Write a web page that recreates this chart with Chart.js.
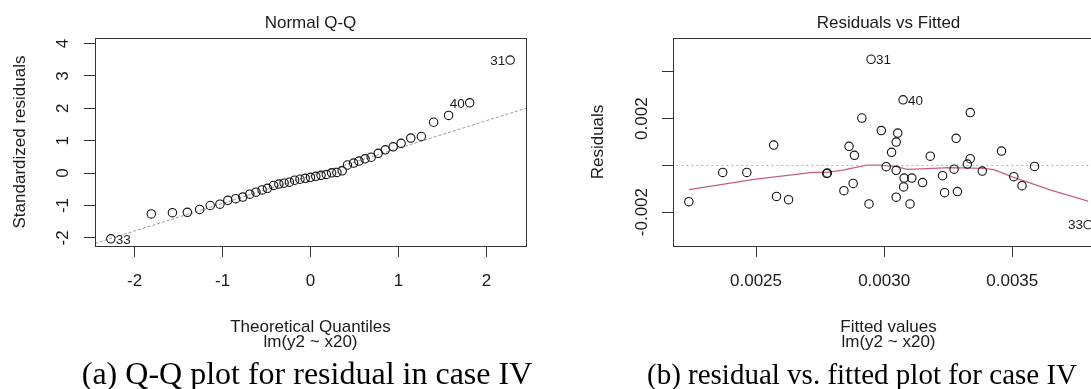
<!DOCTYPE html>
<html><head><meta charset="utf-8">
<script src="https://cdn.jsdelivr.net/npm/chart.js@4.4.0/dist/chart.umd.min.js"></script>
<style>
html,body{margin:0;padding:0;background:#fff;overflow:hidden;width:1091px;height:389px;}
#wrap{position:relative;width:1091px;height:389px;overflow:hidden;background:#fff;}
.pane{position:absolute;top:0;height:389px;width:545px;}
#p1{left:0;}
#p2{left:578px;}
.cap{position:absolute;font-family:"Liberation Serif","Times New Roman",serif;line-height:1;color:#000;white-space:nowrap;transform:translateX(-50%);}
</style></head>
<body><div id="wrap">
<div class="pane" id="p1"><canvas id="c1" width="545" height="389"></canvas></div>
<div class="pane" id="p2"><canvas id="c2" width="545" height="389"></canvas></div>
<div class="cap" style="left:307px;top:357px;font-size:32px">(a) Q-Q plot for residual in case IV</div>
<div class="cap" style="left:862px;top:359.5px;font-size:29px">(b) residual vs. fitted plot for case IV</div>
</div>
<script>
// ---------- Q-Q plot data ----------
const qqTheoretical = [-2.27,-1.81,-1.57,-1.40,-1.26,-1.14,-1.03,-0.94,-0.85,-0.77,-0.69,-0.62,-0.55,-0.49,-0.42,-0.36,-0.30,-0.24,-0.18,-0.12,-0.06,0.00,0.06,0.12,0.18,0.24,0.30,0.36,0.42,0.49,0.55,0.62,0.69,0.77,0.85,0.94,1.03,1.14,1.26,1.40,1.57,1.81,2.27];
const qqStdResid = [-2.03,-1.26,-1.22,-1.21,-1.12,-1.00,-0.96,-0.84,-0.79,-0.74,-0.65,-0.59,-0.52,-0.47,-0.38,-0.34,-0.31,-0.28,-0.22,-0.19,-0.16,-0.13,-0.10,-0.07,-0.04,0.01,0.02,0.07,0.25,0.31,0.37,0.44,0.49,0.61,0.72,0.81,0.92,1.08,1.13,1.57,1.78,2.17,3.49];
const qqLineX = [-2.45, 2.46];
const qqLineY = [-2.17, 2.01];
const qqXTicks = [-2,-1,0,1,2];
const qqXTickLabels = ['-2','-1','0','1','2'];
const qqYTicks = [-2,-1,0,1,2,3,4];
const qqYTickLabels = ['-2','-1','0','1','2','3','4'];
const qqLabelIndex = [0, 41, 42];
const qqLabelText = ['33','40','31'];
const qqLabelSide = ['right','left','left'];

// ---------- Residuals vs Fitted data ----------
const fittedValues = [0.002238,0.002370,0.002464,0.002569,0.002580,0.002627,0.002776,0.002778,0.002843,0.002863,0.002879,0.002884,0.002913,0.002941,0.002949,0.002989,0.003008,0.003029,0.003053,0.003047,0.003047,0.003047,0.003074,0.003076,0.003078,0.003101,0.003108,0.003150,0.003180,0.003228,0.003236,0.003273,0.003281,0.003286,0.003325,0.003336,0.003336,0.003383,0.003458,0.003506,0.003538,0.003587,0.003796];
const residualValues = [-0.001555,-0.000300,-0.000300,0.000869,-0.001328,-0.001469,-0.000343,-0.000330,-0.001084,0.000814,-0.000771,0.000428,0.002026,-0.001649,0.004540,0.001490,-0.000056,0.000557,0.001383,0.000998,-0.000214,-0.001362,0.002805,-0.000921,-0.000544,-0.001649,-0.000544,-0.000737,0.000394,-0.000441,-0.001169,-0.000163,0.001156,-0.001122,0.000056,0.000287,0.002261,-0.000244,0.000612,-0.000484,-0.000869,-0.000043,-0.002540];
const smoothX = [0.002238,0.002500,0.002722,0.002776,0.002839,0.002932,0.002984,0.003050,0.003089,0.003167,0.003258,0.003388,0.003427,0.003466,0.003505,0.003583,0.003650,0.003796];
const smoothY = [-0.001041,-0.000587,-0.000300,-0.000300,-0.000201,0.000013,0.000013,-0.000056,-0.000171,-0.000141,-0.000099,-0.000128,-0.000184,-0.000343,-0.000514,-0.000801,-0.001058,-0.001530];
const zeroLineX = [0.00215, 0.00390];
const zeroLineY = [0, 0];
const resXTicks = [0.0025, 0.0030, 0.0035];
const resXTickLabels = ['0.0025','0.0030','0.0035'];
const resYTicks = [-0.002, 0, 0.002, 0.004];
const resYTickLabels = ['-0.002','','0.002',''];
const resLabelIndex = [14, 22, 42];
const resLabelText = ['31','40','33'];
const resLabelSide = ['right','right','left'];

// ---------- helpers ----------
const FAM = '"Liberation Sans", Arial, Helvetica, sans-serif';
const TXT = '#1a1a1a';
Chart.defaults.font.family = FAM;
Chart.defaults.color = TXT;

const boxPlugin = {
  id: 'boxPlugin',
  afterDraw(chart, args, opts) {
    const {ctx, chartArea: a} = chart;
    ctx.save();
    ctx.strokeStyle = '#333'; ctx.lineWidth = 1;
    ctx.strokeRect(Math.round(a.left)+0.5, Math.round(a.top)+0.5, Math.round(a.right-a.left), Math.round(a.bottom-a.top));
    ctx.font = '17px ' + FAM; ctx.fillStyle = TXT; ctx.textAlign = 'center'; ctx.textBaseline = 'middle';
    ctx.fillText(opts.title, (a.left + a.right)/2, 23);
    ctx.restore();
  }
};
const labelPlugin = {
  id: 'labelPlugin',
  afterDatasetsDraw(chart, args, opts) {
    const {ctx} = chart; const xs = chart.scales.x, ys = chart.scales.y;
    const ds = chart.data.datasets[0].data;
    ctx.save();
    ctx.font = '13.5px ' + FAM; ctx.fillStyle = TXT; ctx.textBaseline = 'middle';
    opts.index.forEach((idx, k) => {
      const p = ds[idx];
      const px = xs.getPixelForValue(p.x), py = ys.getPixelForValue(p.y);
      const left = opts.side[k] === 'left';
      ctx.textAlign = left ? 'right' : 'left';
      ctx.fillText(opts.text[k], px + (left ? -5 : 5), py + 1);
    });
    ctx.restore();
  }
};

function xAxis(min, max, ticks, labels, titleLines) {
  return {
    type: 'linear', min, max,
    afterBuildTicks: s => { s.ticks = ticks.map(v => ({value: v})); },
    afterFit: s => { s.height = 143; },
    ticks: { autoSkip: false, maxRotation: 0, minRotation: 0, padding: 14, color: TXT,
             font: {size: 17}, callback: (v, i) => labels[i] },
    grid: { drawOnChartArea: false, drawTicks: true, tickLength: 11, color: '#333', tickColor: '#333', tickWidth: 1 },
    border: { display: false },
    title: { display: true, text: titleLines, color: TXT, font: {size: 17, lineHeight: '15px'}, padding: {top: 0, bottom: 39} }
  };
}
function yAxis(min, max, ticks, labels, title, pad) {
  return {
    type: 'linear', min, max,
    afterBuildTicks: s => { s.ticks = ticks.map(v => ({value: v})); },
    afterFit: s => { s.width = 95; },
    ticks: { autoSkip: false, minRotation: 90, maxRotation: 90, crossAlign: 'center', padding: pad, color: TXT,
             font: {size: 17}, callback: (v, i) => labels[i] },
    grid: { drawOnChartArea: false, drawTicks: true, tickLength: 11, color: '#333', tickColor: '#333', tickWidth: 1 },
    border: { display: false },
    title: { display: true, text: title, color: TXT, font: {size: 17}, padding: {top: 10, bottom: 0} }
  };
}
const pointStyle = { type: 'scatter', pointRadius: 4.2, pointBorderWidth: 1.1, pointBorderColor: '#111', pointBackgroundColor: 'rgba(0,0,0,0)', showLine: false };

// ---------- Chart 1: Normal Q-Q ----------
new Chart(document.getElementById('c1'), {
  type: 'scatter',
  data: { datasets: [
    Object.assign({ label: 'qq', data: qqTheoretical.map((x, i) => ({x, y: qqStdResid[i]})) }, pointStyle),
    { type: 'scatter', label: 'qqline', data: qqLineX.map((x, i) => ({x, y: qqLineY[i]})), showLine: true, pointRadius: 0,
      borderColor: '#999999', borderWidth: 1, borderDash: [3, 2] }
  ]},
  options: {
    responsive: false, animation: false, events: [],
    layout: { padding: { top: 38, right: 19, bottom: 0, left: 0 } },
    plugins: { legend: {display: false}, tooltip: {enabled: false}, title: {display: false},
      boxPlugin: { title: 'Normal Q-Q' },
      labelPlugin: { index: qqLabelIndex, text: qqLabelText, side: qqLabelSide } },
    scales: {
      x: xAxis(-2.45, 2.45, qqXTicks, qqXTickLabels, ['Theoretical Quantiles', 'lm(y2 ~ x20)']),
      y: yAxis(-2.25, 4.17, qqYTicks, qqYTickLabels, 'Standardized residuals', 13.4)
    }
  },
  plugins: [boxPlugin, labelPlugin]
});

// ---------- Chart 2: Residuals vs Fitted ----------
new Chart(document.getElementById('c2'), {
  type: 'scatter',
  data: { datasets: [
    Object.assign({ label: 'res', data: fittedValues.map((x, i) => ({x, y: residualValues[i]})) }, pointStyle),
    { type: 'scatter', label: 'zero', data: zeroLineX.map((x, i) => ({x, y: zeroLineY[i]})), showLine: true, pointRadius: 0,
      borderColor: '#a8a8a8', borderWidth: 1, borderDash: [2, 3] },
    { type: 'scatter', label: 'smooth', data: smoothX.map((x, i) => ({x, y: smoothY[i]})), showLine: true, pointRadius: 0,
      borderColor: '#c4607a', borderWidth: 1.2, tension: 0 }
  ]},
  options: {
    responsive: false, animation: false, events: [],
    layout: { padding: { top: 38, right: 19, bottom: 0, left: 0 } },
    plugins: { legend: {display: false}, tooltip: {enabled: false}, title: {display: false},
      boxPlugin: { title: 'Residuals vs Fitted' },
      labelPlugin: { index: resLabelIndex, text: resLabelText, side: resLabelSide } },
    scales: {
      x: xAxis(0.002176, 0.003858, resXTicks, resXTickLabels, ['Fitted values', 'lm(y2 ~ x20)']),
      y: yAxis(-0.00345, 0.00545, resYTicks, resYTickLabels, 'Residuals', -4.1)
    }
  },
  plugins: [boxPlugin, labelPlugin]
});
</script>
</body></html>
